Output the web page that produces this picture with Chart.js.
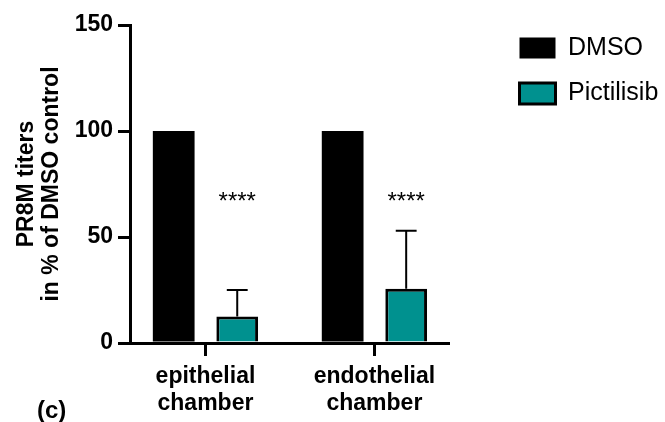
<!DOCTYPE html>
<html>
<head>
<meta charset="utf-8">
<script src="https://cdn.jsdelivr.net/npm/chart.js@4.4.1/dist/chart.umd.min.js"></script>
<style>
  body { margin: 0; background: #fff; }
  canvas { display: block; }
</style>
</head>
<body>
<canvas id="titerChart" width="665" height="422"></canvas>
<script>
// chart data
const categories = ['epithelial chamber', 'endothelial chamber'];
const dmsoValues = [100, 100];
const pictilisibValues = [12.5, 25.6];
const pictilisibSD = [12.5, 27.4];
const significance = ['****', '****'];
const yTicks = [0, 50, 100, 150];
const starLevel = 63;

const teal = '#00918F';
const fontFamily = "'Liberation Sans', Arial, sans-serif";

Chart.defaults.font.family = fontFamily;
Chart.defaults.color = '#000';

// error bars (upwards only), significance stars and the panel letter
const annotations = {
    id: 'annotations',
    afterDatasetsDraw(chart) {
        const ctx = chart.ctx;
        const yScale = chart.scales.y;
        const meta = chart.getDatasetMeta(1);
        ctx.save();
        meta.data.forEach((bar, i) => {
            const top = yScale.getPixelForValue(pictilisibValues[i] + pictilisibSD[i]);
            const half = bar.width / 4;
            ctx.strokeStyle = '#000';
            ctx.lineWidth = 2;
            ctx.beginPath();
            ctx.moveTo(bar.x, bar.y);
            ctx.lineTo(bar.x, top);
            ctx.moveTo(bar.x - half, top);
            ctx.lineTo(bar.x + half, top);
            ctx.stroke();

            ctx.fillStyle = '#000';
            ctx.font = '24px ' + fontFamily;
            ctx.textAlign = 'center';
            ctx.textBaseline = 'alphabetic';
            ctx.fillText(significance[i], bar.x, yScale.getPixelForValue(starLevel));
        });
        ctx.font = 'bold 24px ' + fontFamily;
        ctx.textAlign = 'left';
        ctx.fillText('(c)', 37, 418);
        ctx.restore();
    }
};

new Chart(document.getElementById('titerChart').getContext('2d'), {
    type: 'bar',
    data: {
        datasets: [{
            label: 'DMSO',
            data: categories.map((c, i) => ({ x: i, y: dmsoValues[i] })),
            backgroundColor: '#000',
            borderColor: '#000',
            borderWidth: 0
        },
        {
            label: 'Pictilisib',
            data: categories.map((c, i) => ({ x: i, y: pictilisibValues[i] })),
            backgroundColor: teal,
            borderColor: '#000',
            borderWidth: 3
        }]
    },
    options: {
        responsive: false,
        devicePixelRatio: 1,
        animation: false,
        categoryPercentage: 0.752,
        barPercentage: 0.657,
        layout: { padding: { top: 15, left: 0, right: 0, bottom: 0 } },
        plugins: {
            tooltip: { enabled: false },
            legend: {
                position: 'right',
                align: 'start',
                maxWidth: 166,
                labels: {
                    boxWidth: 36,
                    boxHeight: 21,
                    padding: 20.5,
                    color: '#000',
                    font: { size: 25 }
                }
            }
        },
        scales: {
            x: {
                type: 'linear',
                position: 'bottom',
                offset: false,
                min: -0.4467,
                max: 1.4355,
                afterBuildTicks: (scale) => {
                    scale.ticks = categories.map((c, i) => ({ value: i }));
                },
                afterFit: (scale) => {
                    scale.height = 79;
                    scale.paddingLeft = 0;
                    scale.paddingRight = 0;
                },
                grid: {
                    offset: false,
                    drawOnChartArea: false,
                    drawTicks: true,
                    tickLength: 13,
                    lineWidth: 3,
                    color: '#000'
                },
                border: { display: true, width: 3, color: '#000' },
                ticks: {
                    autoSkip: false,
                    maxRotation: 0,
                    padding: 7,
                    color: '#000',
                    font: { size: 23, weight: 'bold', lineHeight: 1.18 },
                    callback: (value) => categories[value] ? categories[value].split(' ') : ''
                }
            },
            y: {
                min: 0,
                max: 150,
                afterBuildTicks: (scale) => {
                    scale.ticks = yTicks.map(v => ({ value: v }));
                },
                afterFit: (scale) => {
                    scale.width = 130;
                    scale.paddingTop = 25;
                },
                grid: {
                    drawOnChartArea: false,
                    drawTicks: true,
                    tickLength: 12,
                    lineWidth: 3,
                    color: '#000'
                },
                border: { display: true, width: 3, color: '#000' },
                ticks: {
                    padding: 5,
                    color: '#000',
                    font: { size: 23, weight: 'bold' }
                },
                title: {
                    display: true,
                    text: ['PR8M titers', 'in % of DMSO control'],
                    color: '#000',
                    font: { size: 23, weight: 'bold', lineHeight: 1.1 },
                    padding: { top: 14, bottom: 0 }
                }
            },
            // empty spacer between the plot and the legend
            spacer: {
                type: 'linear',
                position: 'right',
                display: false,
                afterFit: (scale) => {
                    scale.width = 51;
                }
            }
        }
    },
    plugins: [annotations]
});
</script>
</body>
</html>
